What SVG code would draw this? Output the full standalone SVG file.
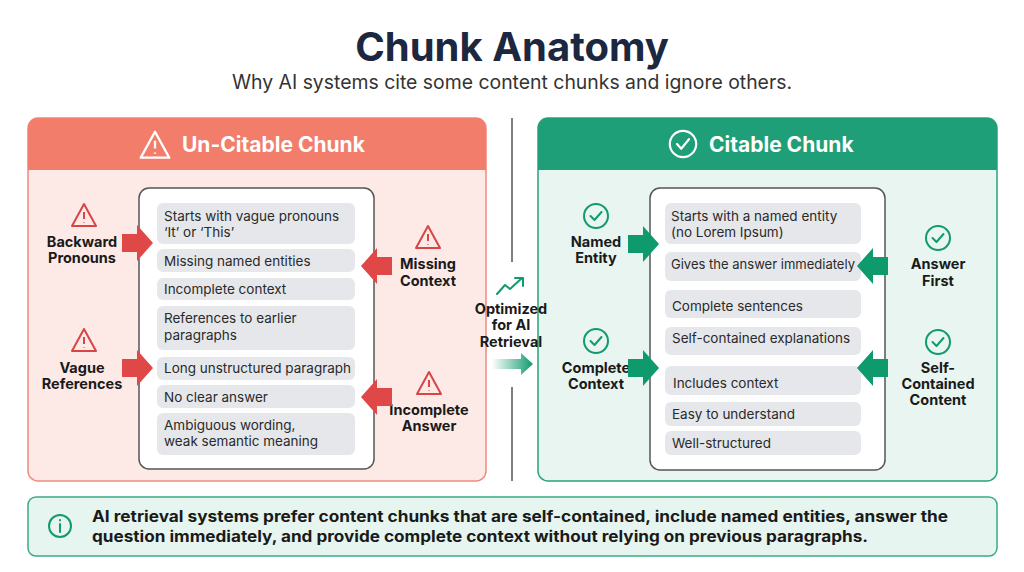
<svg xmlns="http://www.w3.org/2000/svg" width="1024" height="572" viewBox="0 0 1024 572">
<defs>
<style>
text{font-family:Inter,"Liberation Sans",sans-serif}
.t{font-size:40px;font-weight:700;fill:#1c2740}
.sub{font-size:19.4px;fill:#333}
.h{font-size:21px;font-weight:700;fill:#fff}
.it{font-size:13.5px;fill:#2a2a2a}
.lb{font-size:14.5px;font-weight:700;fill:#1a1a1a;text-anchor:middle}
.row{fill:#e5e7eb}
.box{fill:#fff;stroke:#555;stroke-width:1.5}
.ra{fill:#e04848}
.ga{fill:#0f9a6e}
.warn{fill:none;stroke:#d94444;stroke-width:2;stroke-linejoin:round}
.chk{fill:none;stroke:#119a6e;stroke-width:2;stroke-linecap:round;stroke-linejoin:round}
.bt{font-size:15.5px;font-weight:700;fill:#1a1a1a}
</style>
<path id="arr" d="M-15,-9 H0 V-18 L16,0 L0,18 V9 H-15 Z"/>
<g id="wi"><path d="M0,-12 L12,10 H-12 Z"/><path d="M0,-4 V3 M0,6 V6.5"/></g>
<g id="ci"><circle r="12"/><path d="M-5.5,0 L-1.5,4 L5.5,-4"/></g>
<linearGradient id="gg" x1="0" x2="1"><stop offset="0" stop-color="#0f9a6e" stop-opacity="0"/><stop offset="1" stop-color="#0f9a6e"/></linearGradient>
</defs>
<rect width="1024" height="572" fill="#fff"/>
<text class="t" x="512" y="61" text-anchor="middle">Chunk Anatomy</text>
<text class="sub" x="512" y="89" text-anchor="middle">Why AI systems cite some content chunks and ignore others.</text>

<g id="uncitable">
<rect x="28" y="118" width="458" height="363" rx="10" fill="#fde9e5" stroke="#f08a7c" stroke-width="1.5"/>
<path d="M28,170 V128 A10,10 0 0 1 38,118 H476 A10,10 0 0 1 486,128 V170 Z" fill="#f27d6b"/>
<g transform="translate(155,146) scale(1.3)" fill="none" stroke="#fff" stroke-width="1.8" stroke-linejoin="round"><path d="M0,-11 L11,9 H-11 Z"/><path d="M0,-4 V2 M0,5 V6"/></g>
<text class="h" x="182" y="152">Un-Citable Chunk</text>
<rect class="box" x="139" y="188" width="235" height="281" rx="10"/>
<rect class="row" x="157" y="203" width="198" height="41" rx="6"/>
<rect class="row" x="157" y="249" width="198" height="23" rx="6"/>
<rect class="row" x="157" y="278" width="198" height="22" rx="6"/>
<rect class="row" x="157" y="306" width="198" height="44" rx="6"/>
<rect class="row" x="157" y="357" width="198" height="23" rx="6"/>
<rect class="row" x="157" y="385" width="198" height="23" rx="6"/>
<rect class="row" x="157" y="413" width="198" height="42" rx="6"/>
<text class="it" x="164" y="221">Starts with vague pronouns</text>
<text class="it" x="164" y="237">‘It’ or ‘This’</text>
<text class="it" x="164" y="266">Missing named entities</text>
<text class="it" x="164" y="294">Incomplete context</text>
<text class="it" x="164" y="323">References to earlier</text>
<text class="it" x="164" y="340">paragraphs</text>
<text class="it" x="164" y="373">Long unstructured paragraph</text>
<text class="it" x="164" y="402">No clear answer</text>
<text class="it" x="164" y="430">Ambiguous wording,</text>
<text class="it" x="164" y="446">weak semantic meaning</text>
</g>
<g id="backward"><use href="#wi" class="warn" x="84" y="216"/><text class="lb" x="82" y="247">Backward</text><text class="lb" x="82" y="263">Pronouns</text></g>
<g id="vague"><use href="#wi" class="warn" x="84" y="341"/><text class="lb" x="82" y="373">Vague</text><text class="lb" x="82" y="389">References</text></g>
<g id="missing"><use href="#wi" class="warn" x="428" y="238"/><text class="lb" x="428" y="269">Missing</text><text class="lb" x="428" y="286">Context</text></g>
<g id="incomplete"><use href="#wi" class="warn" x="429" y="384"/><text class="lb" x="429" y="415">Incomplete</text><text class="lb" x="429" y="431">Answer</text></g>

<g id="citable">
<rect x="538" y="118" width="459" height="363" rx="10" fill="#e8f5f1" stroke="#2aa37c" stroke-width="1.5"/>
<path d="M538,170 V128 A10,10 0 0 1 548,118 H987 A10,10 0 0 1 997,128 V170 Z" fill="#1f9f77"/>
<g transform="translate(683,144) scale(1.2)" fill="none" stroke="#fff" stroke-width="1.8" stroke-linecap="round" stroke-linejoin="round"><circle r="11"/><path d="M-5,0 L-1.5,4 L5,-4"/></g>
<text class="h" x="709" y="152">Citable Chunk</text>
<rect class="box" x="650" y="188" width="235" height="282" rx="10"/>
<rect class="row" x="665" y="203" width="196" height="41" rx="6"/>
<rect class="row" x="665" y="252" width="196" height="29" rx="6"/>
<rect class="row" x="665" y="290" width="196" height="28" rx="6"/>
<rect class="row" x="665" y="327" width="196" height="28" rx="6"/>
<rect class="row" x="665" y="366" width="196" height="29" rx="6"/>
<rect class="row" x="665" y="402" width="196" height="24" rx="6"/>
<rect class="row" x="665" y="431" width="196" height="24" rx="6"/>
<text class="it" x="671" y="221">Starts with a named entity</text>
<text class="it" x="671" y="237">(no Lorem Ipsum)</text>
<text class="it" x="671" y="269" textLength="184" lengthAdjust="spacingAndGlyphs">Gives the answer immediately</text>
<text class="it" x="672" y="311">Complete sentences</text>
<text class="it" x="672" y="343">Self-contained explanations</text>
<text class="it" x="673" y="388">Includes context</text>
<text class="it" x="672" y="419">Easy to understand</text>
<text class="it" x="672" y="448">Well-structured</text>
</g>
<g id="named"><use href="#ci" class="chk" x="596" y="216"/><text class="lb" x="596" y="247">Named</text><text class="lb" x="596" y="263">Entity</text></g>
<g id="complete"><use href="#ci" class="chk" x="596" y="341"/><text class="lb" x="596" y="373">Complete</text><text class="lb" x="596" y="389">Context</text></g>
<g id="answerfirst"><use href="#ci" class="chk" x="938" y="238"/><text class="lb" x="938" y="269">Answer</text><text class="lb" x="938" y="286">First</text></g>
<g id="selfcontained"><use href="#ci" class="chk" x="938" y="342"/><text class="lb" x="938" y="373">Self-</text><text class="lb" x="938" y="389">Contained</text><text class="lb" x="938" y="405">Content</text></g>

<g id="middle">
<path d="M497,294 L505,285 L510,289 L522,278 M515,278 H523 V286" fill="none" stroke="#119a6e" stroke-width="2" stroke-linecap="round" stroke-linejoin="round"/>
<text class="lb" x="511" y="314">Optimized</text>
<text class="lb" x="511" y="330">for AI</text>
<text class="lb" x="511" y="347">Retrieval</text>
</g>

<g id="connectors">
<line x1="512" y1="118" x2="512" y2="262" stroke="#555" stroke-width="1.5"/>
<line x1="512" y1="387" x2="512" y2="481" stroke="#555" stroke-width="1.5"/>
<path d="M492,359 H521 V353 L533,364 L521,375 V369 H492 Z" fill="url(#gg)"/>
<use href="#arr" class="ra" x="137" y="243"/>
<use href="#arr" class="ra" x="137" y="368"/>
<use href="#arr" class="ra" transform="translate(377,266) scale(-1,1)"/>
<use href="#arr" class="ra" transform="translate(377,397) scale(-1,1)"/>
<use href="#arr" class="ga" x="643" y="244"/>
<use href="#arr" class="ga" x="643" y="368"/>
<use href="#arr" class="ga" transform="translate(873,266) scale(-1,1)"/>
<use href="#arr" class="ga" transform="translate(873,368) scale(-1,1)"/>
</g>

<g id="note">
<rect x="28" y="497" width="969" height="59" rx="8" fill="#e6f5ef" stroke="#3aaa85" stroke-width="1.5"/>
<circle cx="60" cy="526" r="11" fill="none" stroke="#119a6e" stroke-width="2"/>
<path d="M60,524 V532 M60,520 V520.5" stroke="#119a6e" stroke-width="2" stroke-linecap="round"/>
<text class="bt" x="92" y="522" textLength="856" lengthAdjust="spacingAndGlyphs">AI retrieval systems prefer content chunks that are self-contained, include named entities, answer the</text>
<text class="bt" x="92" y="542" textLength="776" lengthAdjust="spacingAndGlyphs">question immediately, and provide complete context without relying on previous paragraphs.</text>
</g>
</svg>
